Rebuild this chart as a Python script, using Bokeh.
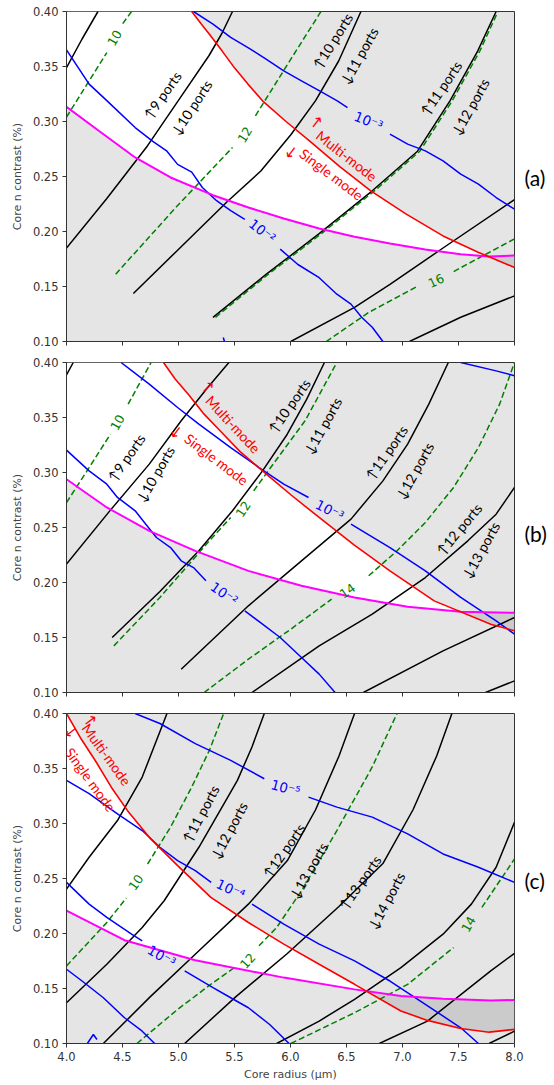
import numpy as np
from bokeh.plotting import figure
from bokeh.models import (Label, FixedTicker, Range1d, PrintfTickFormatter, LinearAxis,
                          CustomJSTickFormatter, CustomLabelingPolicy)
from bokeh.layouts import column
from bokeh.embed import file_html
from bokeh.resources import INLINE

# ---------------- data ----------------
# x: core radius (um), y: core index contrast (%)
X_TICKS = [4.0, 4.5, 5.0, 5.5, 6.0, 6.5, 7.0, 7.5, 8.0]
Y_TICKS = [0.10, 0.15, 0.20, 0.25, 0.30, 0.35, 0.40]

# ---- panel (a) ----
a_black_x = [[4.00, 4.139, 4.281],
             [4.00, 4.360, 4.724, 4.998, 5.273, 5.387, 5.482],
             [4.597, 4.992, 5.434, 5.735, 6.003, 6.224, 6.430, 6.629],
             [5.308, 5.782, 6.256, 6.730, 7.134, 7.425, 7.671, 7.836],
             [6.003, 6.572, 6.888, 7.362, 8.0],
             [7.062, 7.520, 8.0]]
a_black_y = [[0.349, 0.375, 0.400],
             [0.185, 0.230, 0.278, 0.319, 0.360, 0.380, 0.400],
             [0.1436, 0.183, 0.227, 0.255, 0.288, 0.319, 0.355, 0.400],
             [0.122, 0.161, 0.198, 0.237, 0.273, 0.319, 0.364, 0.400],
             [0.100, 0.131, 0.152, 0.185, 0.229],
             [0.100, 0.122, 0.1415]]
a_green_x = [[4.0, 4.360], [4.502, 4.581],
             [4.439, 4.992, 5.308, 5.482], [5.687, 6.003, 6.272],
             [5.33, 5.80, 6.275, 6.75, 7.155, 7.445, 7.69, 7.852],
             [6.319, 6.698, 7.141], [7.457, 8.0]]
a_green_y = [[0.304, 0.3627], [0.389, 0.400],
             [0.1612, 0.2236, 0.2576, 0.2764], [0.3052, 0.3567, 0.400],
             [0.122, 0.161, 0.198, 0.237, 0.273, 0.319, 0.364, 0.400],
             [0.100, 0.1264, 0.1506], [0.1636, 0.1933]]
a_blue_x = [[4.0, 4.202, 4.360, 4.613, 4.771, 4.897, 4.992, 5.118, 5.213, 5.340, 5.466, 5.592],
            [5.908, 6.066, 6.256, 6.414, 6.540, 6.635, 6.730, 6.825],
            [5.40, 5.41],
            [5.134, 5.308, 5.466, 5.624, 5.782, 5.940, 6.098, 6.256, 6.414, 6.509],
            [6.888, 7.046, 7.204, 7.362, 7.520, 7.678, 7.836, 8.0]]
a_blue_y = [[0.365, 0.334, 0.319, 0.2945, 0.282, 0.273, 0.261, 0.254, 0.240, 0.228, 0.219, 0.211],
            [0.184, 0.170, 0.158, 0.143, 0.134, 0.122, 0.113, 0.100],
            [0.1036, 0.100],
            [0.400, 0.3885, 0.3764, 0.367, 0.3567, 0.346, 0.337, 0.328, 0.319, 0.3127],
            [0.2885, 0.2794, 0.2733, 0.2642, 0.2521, 0.243, 0.2309, 0.2203]]
a_red_x = [5.118, 5.200, 5.276, 5.390, 5.498, 5.620, 5.750, 5.960, 6.180, 6.440, 6.717, 7.030, 7.362, 7.680, 8.0]
a_red_y = [0.400, 0.3890, 0.3794, 0.3640, 0.349, 0.3340, 0.3188, 0.3000, 0.2815, 0.2590, 0.237, 0.2160, 0.196, 0.1810, 0.1673]
a_mag_x = [4.0, 4.297, 4.613, 4.929, 5.308, 5.624, 5.940, 6.256, 6.572, 6.888, 7.204, 7.520, 7.773, 8.0]
a_mag_y = [0.3133, 0.2909, 0.2673, 0.2491, 0.233, 0.2218, 0.2118, 0.2027, 0.1952, 0.1891, 0.1836, 0.1794, 0.1773, 0.1782]
a_green_labels = [("10", 4.430, 0.376, 60), ("12", 5.592, 0.288, 58), ("16", 7.299, 0.1552, 25)]
a_blue_labels = [("10⁻²", 5.750, 0.2006, -38), ("10⁻³", 6.698, 0.3006, -22)]
a_port_labels = [("↑9 ports", 4.856, 0.324, 55), ("↓10 ports", 5.115, 0.3127, 57),
                 ("↑10 ports", 6.376, 0.3733, 58), ("↓11 ports", 6.613, 0.3597, 61),
                 ("↑11 ports", 7.343, 0.3303, 56), ("↓12 ports", 7.605, 0.3133, 61)]
a_mode_arrows = [("↑", 6.231, 0.2991, -38), ("↓", 6.003, 0.2718, -37)]
a_mode_labels = [("Multi-mode", 6.502, 0.2688, -38), ("Single mode", 6.367, 0.2521, -37)]

# ---- panel (b) ----
b_black_x = [[4.0, 4.06],
             [4.0, 4.392, 4.739, 5.024, 5.261, 5.450],
             [4.408, 4.834, 5.182, 5.482, 5.750, 5.971, 6.145, 6.303],
             [5.024, 5.624, 6.098, 6.540, 6.825, 7.046, 7.235, 7.409],
             [5.656, 6.256, 6.730, 7.204, 7.583, 7.836, 8.0],
             [6.651, 7.362, 8.0],
             [7.741, 8.0]]
b_black_y = [[0.3888, 0.40],
             [0.2167, 0.2658, 0.3076, 0.347, 0.3773, 0.40],
             [0.15, 0.1918, 0.2288, 0.2652, 0.3015, 0.3348, 0.3667, 0.40],
             [0.1212, 0.1788, 0.2197, 0.2576, 0.2924, 0.3258, 0.3621, 0.40],
             [0.10, 0.1424, 0.1712, 0.2045, 0.2379, 0.2621, 0.2864],
             [0.10, 0.1379, 0.1682],
             [0.10, 0.1106]]
b_green_x = [[4.0, 4.202, 4.392], [4.550, 4.755],
             [4.423, 4.834, 5.276, 5.466], [5.671, 5.845, 6.130, 6.414],
             [5.229, 5.624, 6.003, 6.367], [6.698, 6.951, 7.204, 7.456, 7.678, 7.867, 8.0]]
b_green_y = [[0.2727, 0.3045, 0.3348], [0.3621, 0.40],
             [0.1424, 0.1864, 0.2379, 0.2591], [0.2833, 0.3076, 0.347, 0.40],
             [0.10, 0.1303, 0.1576, 0.1848], [0.2061, 0.2288, 0.2545, 0.2864, 0.3227, 0.3621, 0.40]]
b_blue_x = [[4.0, 4.202, 4.360, 4.455, 4.613, 4.708, 4.803, 4.929, 5.024, 5.134, 5.245],
            [5.592, 5.750, 5.908, 6.098, 6.256, 6.398],
            [4.487, 4.739, 4.992, 5.182, 5.466, 5.719, 5.940, 6.161],
            [6.540, 6.888, 7.204, 7.520, 7.836, 8.0],
            [7.520, 7.836, 8.0]]
b_blue_y = [[0.3203, 0.3015, 0.2894, 0.2773, 0.2652, 0.253, 0.2409, 0.2318, 0.2197, 0.2136, 0.2015],
            [0.1742, 0.1621, 0.15, 0.1318, 0.1167, 0.10],
            [0.40, 0.3803, 0.3591, 0.3439, 0.3227, 0.3045, 0.2894, 0.2773],
            [0.253, 0.2318, 0.2106, 0.1864, 0.1652, 0.153],
            [0.40, 0.3924, 0.3879]]
b_red_x = [4.866, 4.970, 5.087, 5.220, 5.371, 5.550, 5.750, 6.000, 6.256, 6.570, 6.888, 7.283, 7.788, 8.0]
b_red_y = [0.40, 0.3850, 0.3712, 0.3540, 0.3379, 0.3190, 0.3015, 0.2800, 0.2591, 0.2340, 0.2106, 0.1833, 0.1621, 0.1561]
b_mag_x = [4.0, 4.360, 4.739, 5.150, 5.624, 6.098, 6.572, 7.046, 7.520, 8.0]
b_mag_y = [0.2939, 0.2682, 0.247, 0.2288, 0.2106, 0.197, 0.1864, 0.1779, 0.1733, 0.1724]
b_green_labels = [("10", 4.455, 0.3455, 60), ("12", 5.577, 0.2667, 57), ("14", 6.509, 0.1924, 35)]
b_blue_labels = [("10⁻²", 5.409, 0.190, -35), ("10⁻³", 6.351, 0.2658, -27)]
b_port_labels = [("↑9 ports", 4.534, 0.3136, 55), ("↓10 ports", 4.793, 0.2985, 60),
                 ("↑10 ports", 5.987, 0.3606, 55), ("↓11 ports", 6.288, 0.3424, 61),
                 ("↑11 ports", 6.856, 0.3182, 55), ("↓12 ports", 7.109, 0.3015, 61),
                 ("↑12 ports", 7.504, 0.2485, 50), ("↓13 ports", 7.700, 0.2294, 61)]
b_mode_arrows = [("↑", 5.261, 0.3773, -47), ("↓", 4.976, 0.3364, -37)]
b_mode_labels = [("Multi-mode", 5.488, 0.3439, -47), ("Single mode", 5.340, 0.3121, -37)]

# ---- panel (c) ----
c_black_x = [[4.0, 4.202, 4.455, 4.676, 4.897],
             [4.0, 4.360, 4.676, 4.872, 5.182, 5.526, 5.656, 5.766],
             [4.329, 4.749, 5.166, 5.624, 5.972, 6.224, 6.433, 6.572],
             [5.055, 5.513, 5.972, 6.430, 6.825, 7.094, 7.305, 7.441],
             [5.877, 6.256, 6.572, 6.986, 7.362, 7.615, 7.836, 8.0],
             [6.793, 7.223, 7.788, 8.0],
             [7.773, 8.0]]
c_black_y = [[0.2404, 0.2693, 0.3027, 0.3422, 0.40],
             [0.1371, 0.172, 0.2055, 0.2298, 0.2784, 0.3392, 0.3696, 0.40],
             [0.10, 0.1426, 0.1827, 0.2267, 0.2663, 0.3125, 0.3614, 0.40],
             [0.10, 0.1426, 0.1818, 0.2243, 0.2636, 0.3125, 0.3614, 0.40],
             [0.10, 0.1204, 0.1401, 0.169, 0.1994, 0.2267, 0.2602, 0.3012],
             [0.10, 0.1204, 0.166, 0.182],
             [0.10, 0.1112]]
c_green_x = [[4.0, 4.360, 4.534], [4.724, 4.929, 5.118, 5.276, 5.403],
             [4.629, 4.992, 5.308, 5.513], [5.719, 5.877, 6.098, 6.414, 6.730, 6.951],
             [6.003, 6.572, 7.046, 7.456], [7.709, 8.0]]
c_green_y = [[0.1705, 0.21, 0.2322], [0.2632, 0.2967, 0.3331, 0.3666, 0.40],
             [0.10, 0.131, 0.1553, 0.1699], [0.1888, 0.2055, 0.2389, 0.2936, 0.3514, 0.40],
             [0.10, 0.128, 0.1538, 0.1872], [0.2237, 0.2678]]
c_blue_x = [[4.613, 4.834, 5.150, 5.466, 5.766],
            [6.161, 6.414, 6.730, 7.046, 7.362, 7.678, 8.0],
            [4.0, 4.202, 4.455, 4.676, 4.834, 4.992, 5.150, 5.292],
            [5.656, 5.940, 6.256, 6.572, 6.888, 7.204, 7.520, 7.678],
            [4.0, 4.202, 4.360, 4.581, 4.676],
            [5.055, 5.308, 5.466, 5.624, 5.814, 5.987],
            [4.0, 4.139, 4.329, 4.518, 4.676, 4.787],
            [4.186, 4.240, 4.272]]
c_blue_y = [[0.40, 0.3909, 0.3726, 0.3574, 0.3407],
            [0.324, 0.3149, 0.3058, 0.2906, 0.2723, 0.2602, 0.2465],
            [0.3392, 0.3271, 0.3088, 0.2936, 0.2784, 0.2663, 0.2571, 0.2465],
            [0.2267, 0.2085, 0.1903, 0.1751, 0.1568, 0.1356, 0.1143, 0.10],
            [0.2465, 0.2267, 0.2146, 0.1994, 0.1933],
            [0.166, 0.1508, 0.1416, 0.1325, 0.1173, 0.10],
            [0.1675, 0.1568, 0.1416, 0.1234, 0.1112, 0.10],
            [0.10, 0.1082, 0.1036]]
c_red_x = [4.0, 4.130, 4.265, 4.400, 4.543, 4.752, 4.992, 5.289, 5.624, 5.940, 6.256, 6.572, 6.986, 7.223, 7.520, 7.773, 8.0]
c_red_y = [0.40, 0.3770, 0.3559, 0.3330, 0.3119, 0.286, 0.2617, 0.2328, 0.21, 0.1903, 0.172, 0.1538, 0.1295, 0.121, 0.1137, 0.1103, 0.1128]
c_mag_x = [4.0, 4.518, 5.150, 5.940, 6.572, 6.986, 7.362, 7.788, 8.0]
c_mag_y = [0.2207, 0.1939, 0.1757, 0.1599, 0.1492, 0.1432, 0.1407, 0.1392, 0.1395]
c_green_labels = [("10", 4.619, 0.2465, 55), ("12", 5.618, 0.1751, 48), ("14", 7.589, 0.2085, 60)]
c_blue_labels = [("10⁻⁵", 5.956, 0.3325, -15), ("10⁻⁴", 5.466, 0.2404, -25), ("10⁻³", 4.850, 0.1796, -30)]
c_port_labels = [("↑11 ports", 5.197, 0.3088, 62), ("↓12 ports", 5.450, 0.2936, 62),
                 ("↑12 ports", 5.940, 0.2754, 55), ("↓13 ports", 6.161, 0.2571, 60),
                 ("↑13 ports", 6.619, 0.2465, 55), ("↓14 ports", 6.856, 0.2298, 62)]
c_mode_arrows = [("↑", 4.210, 0.3935, -54), ("↓", 4.038, 0.3830, -54)]
c_mode_labels = [("Multi-mode", 4.359, 0.3629, -54), ("Single mode", 4.215, 0.3400, -54)]

PANEL_TAGS = ["(a)", "(b)", "(c)"]
PANEL_TAG_Y = [0.249, 0.245, 0.2485]

# ---------------- drawing ----------------
ANN_FONT = "Lato"
TICK_FONT = "DejaVu Sans"


def add_labels(p, labels, color, font, size):
    for t, x, y, ang in labels:
        p.add_layout(Label(x=x, y=y, text=t, angle=ang, angle_units="deg",
                           text_align="center", text_baseline="middle",
                           text_font=font, text_font_size=size, text_color=color))


def make_panel(tag, tag_y, black_x, black_y, green_x, green_y, blue_x, blue_y,
               red_x, red_y, mag_x, mag_y, glab, blab, plab, marr, mlab, last):
    p = figure(frame_width=448, frame_height=330,
               x_range=Range1d(4.0, 8.0), y_range=Range1d(0.10, 0.40),
               output_backend="svg", toolbar_location=None,
               min_border_left=66, min_border_right=40, min_border_top=11,
               min_border_bottom=42 if last else 10)
    p.background_fill_color = "#e5e5e5"
    p.border_fill_color = "white"
    p.grid.visible = False
    p.outline_line_color = "#333333"
    p.outline_line_width = 1

    # feasible (white) region: above magenta and below red; darker where red < magenta
    xs = np.linspace(4.0, 8.0, 801)
    mag = np.interp(xs, mag_x, mag_y)
    red = np.minimum(np.interp(xs, red_x, red_y), 0.40)
    p.varea(x=xs, y1=mag, y2=np.maximum(red, mag), fill_color="white")
    p.varea(x=xs, y1=red, y2=np.maximum(mag, red), fill_color="#cbcbcb")

    p.multi_line(xs=black_x, ys=black_y, line_color="black", line_width=1.5)
    p.multi_line(xs=green_x, ys=green_y, line_color="#008000", line_width=1.5, line_dash="6 3")
    p.multi_line(xs=blue_x, ys=blue_y, line_color="#0000ff", line_width=1.5)
    p.line(mag_x, mag_y, line_color="#ff00ff", line_width=2)
    p.line(red_x, red_y, line_color="#ff0000", line_width=1.6)

    add_labels(p, glab, "#008000", TICK_FONT, "12.5px")
    add_labels(p, blab, "#0000ff", TICK_FONT, "13.5px")
    add_labels(p, plab, "black", ANN_FONT, "14px")
    add_labels(p, marr, "#ff0000", "DejaVu Sans", "16px")
    add_labels(p, mlab, "#ff0000", ANN_FONT, "14px")

    # panel tag drawn as the single label of a bare right-hand axis
    tag_axis = LinearAxis(ticker=FixedTicker(ticks=[tag_y], minor_ticks=[]),
                          formatter=CustomJSTickFormatter(code="return '%s'" % tag),
                          axis_line_color=None, major_tick_line_color=None,
                          minor_tick_line_color=None, major_tick_out=0, major_tick_in=0,
                          major_label_standoff=10, major_label_text_font=ANN_FONT,
                          major_label_text_font_size="21px", major_label_text_color="black")
    p.add_layout(tag_axis, "right")

    xa = p.xaxis[0]
    ya = p.yaxis[0]
    xa.ticker = FixedTicker(ticks=X_TICKS)
    ya.ticker = FixedTicker(ticks=Y_TICKS)
    xa.formatter = PrintfTickFormatter(format="%.1f")
    ya.formatter = PrintfTickFormatter(format="%.2f")
    for ax in (xa, ya):
        ax.major_tick_out = 4
        ax.major_tick_in = 0
        ax.minor_tick_line_color = None
        ax.axis_line_color = "#333333"
        ax.major_tick_line_color = "#333333"
        ax.major_label_text_font = TICK_FONT
        ax.major_label_text_font_size = "11.5px"
        ax.major_label_text_color = "#333333"
        ax.major_label_standoff = 4
        ax.axis_label_text_font = TICK_FONT
        ax.axis_label_text_font_size = "11px"
        ax.axis_label_text_font_style = "normal"
        ax.axis_label_text_color = "#444444"
    ya.axis_label = "Core n contrast (%)"
    ya.axis_label_standoff = 6
    if last:
        xa.axis_label = "Core radius (µm)"
        xa.axis_label_standoff = 4
    else:
        # upper panels: tick marks only, no tick labels
        xa.major_label_policy = CustomLabelingPolicy(
            code="for (const i of indices) { indices.unset(i) }\nreturn indices")
        xa.major_label_text_font_size = "1px"
        xa.major_label_standoff = 0
    return p


pa = make_panel(PANEL_TAGS[0], PANEL_TAG_Y[0], a_black_x, a_black_y, a_green_x, a_green_y,
                a_blue_x, a_blue_y, a_red_x, a_red_y, a_mag_x, a_mag_y, a_green_labels,
                a_blue_labels, a_port_labels, a_mode_arrows, a_mode_labels, False)
pb = make_panel(PANEL_TAGS[1], PANEL_TAG_Y[1], b_black_x, b_black_y, b_green_x, b_green_y,
                b_blue_x, b_blue_y, b_red_x, b_red_y, b_mag_x, b_mag_y, b_green_labels,
                b_blue_labels, b_port_labels, b_mode_arrows, b_mode_labels, False)
pc = make_panel(PANEL_TAGS[2], PANEL_TAG_Y[2], c_black_x, c_black_y, c_green_x, c_green_y,
                c_blue_x, c_blue_y, c_red_x, c_red_y, c_mag_x, c_mag_y, c_green_labels,
                c_blue_labels, c_port_labels, c_mode_arrows, c_mode_labels, True)

layout = column(pa, pb, pc, spacing=0)
open("out.html", "w").write(file_html(layout, INLINE))
